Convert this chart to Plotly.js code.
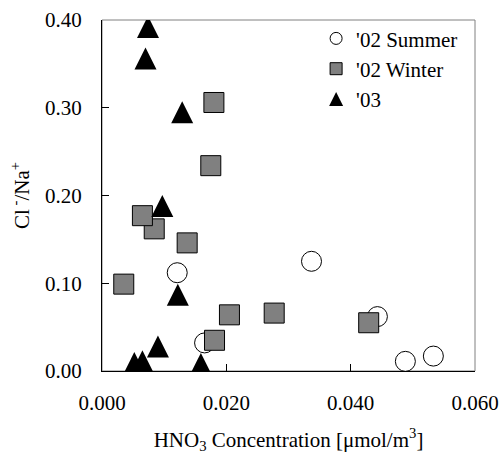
<!DOCTYPE html>
<html>
<head>
<meta charset="utf-8">
<script src="https://cdn.plot.ly/plotly-3.0.1.min.js"></script>
<style>html,body{margin:0;padding:0;background:#fff;}</style>
</head>
<body>
<div id="chart" style="width:499px;height:454px;"></div>
<script>
// '02 Summer
const summerX = [0.0121, 0.0165, 0.0337, 0.0443, 0.0488, 0.0533];
const summerY = [0.112, 0.032, 0.125, 0.062, 0.011, 0.017];
// '02 Winter
const winterX = [0.0180, 0.0175, 0.0084, 0.0065, 0.0137, 0.0035, 0.0205, 0.0277, 0.0181, 0.0429];
const winterY = [0.306, 0.234, 0.162, 0.177, 0.146, 0.099, 0.064, 0.066, 0.035, 0.055];
// '03
const y03X = [0.0074, 0.0070, 0.0129, 0.0097, 0.0122, 0.0090, 0.0052, 0.0065, 0.0159];
const y03Y = [0.392, 0.356, 0.295, 0.188, 0.087, 0.028, 0.009, 0.011, 0.008];

const seriesNames = ["'02 Summer", "'02 Winter", "'03"];
const xTickVals = [0, 0.02, 0.04, 0.06];
const xTickText = ["0.000", "0.020", "0.040", "0.060"];
const yTickVals = [0, 0.1, 0.2, 0.3, 0.4];
const yTickText = ["0.00", "0.10", "0.20", "0.30", "0.40"];

const FONT = "Liberation Serif";

const traces = [
  {x: summerX, y: summerY, type: 'scatter', mode: 'markers', name: seriesNames[0], showlegend: false,
   marker: {symbol: 'circle', size: 20, color: '#ffffff', line: {color: '#000000', width: 1}}},
  {x: winterX, y: winterY, type: 'scatter', mode: 'markers', name: seriesNames[1], showlegend: false,
   marker: {symbol: 'square', size: 20, color: '#808080', line: {color: '#000000', width: 1}}},
  {x: y03X, y: y03Y, type: 'scatter', mode: 'markers', name: seriesNames[2], showlegend: false,
   marker: {symbol: 'arrow-down', angle: 180, standoff: 11, size: 22, color: '#000000', line: {width: 0}}},
  // legend entries
  {x: [null], y: [null], type: 'scatter', mode: 'markers', name: seriesNames[0],
   marker: {symbol: 'circle', size: 12, color: '#ffffff', line: {color: '#000000', width: 1}}},
  {x: [null], y: [null], type: 'scatter', mode: 'markers', name: seriesNames[1],
   marker: {symbol: 'square', size: 12, color: '#808080', line: {color: '#000000', width: 1}}},
  {x: [null], y: [null], type: 'scatter', mode: 'markers', name: seriesNames[2],
   marker: {symbol: 'arrow-up', standoff: 7, size: 14, color: '#000000', line: {width: 0}}}
];

const layout = {
  width: 499, height: 454,
  margin: {l: 102, r: 24, t: 20, b: 83},
  paper_bgcolor: '#ffffff', plot_bgcolor: '#ffffff',
  font: {family: FONT, size: 21, color: '#000000'},
  showlegend: true,
  legend: {x: 0.574, y: 1.005, xanchor: 'left', yanchor: 'top', bgcolor: 'rgba(0,0,0,0)',
           font: {family: FONT, size: 21, color: '#000000'}},
  xaxis: {
    range: [0, 0.06], tickvals: xTickVals, ticktext: xTickText,
    showgrid: false, zeroline: false, showline: true, linecolor: '#000000', linewidth: 1,
    ticks: 'inside', ticklen: 7, tickcolor: '#000000', ticklabelstandoff: 13,
    tickfont: {family: FONT, size: 21, color: '#000000'},
    title: {text: 'HNO<sub>3</sub> Concentration [μmol/m<sup>3</sup>]', font: {family: FONT, size: 21, color: '#000000'}, standoff: 25}
  },
  yaxis: {
    range: [0, 0.4], tickvals: yTickVals, ticktext: yTickText,
    showgrid: false, zeroline: false, showline: true, linecolor: '#000000', linewidth: 1,
    ticks: 'inside', ticklen: 7, tickcolor: '#000000', ticklabelstandoff: 15,
    tickfont: {family: FONT, size: 21, color: '#000000'},
    title: {text: 'Cl<sup> -</sup>/Na<sup>+</sup>', font: {family: FONT, size: 21, color: '#000000'}, standoff: 9}
  },
  shapes: [{type: 'rect', xref: 'paper', yref: 'paper', x0: 0, x1: 1, y0: 0, y1: 1,
            line: {color: '#808080', width: 1}, layer: 'below'}]
};

Plotly.newPlot('chart', traces, layout, {displayModeBar: false, staticPlot: true});
</script>
</body>
</html>
